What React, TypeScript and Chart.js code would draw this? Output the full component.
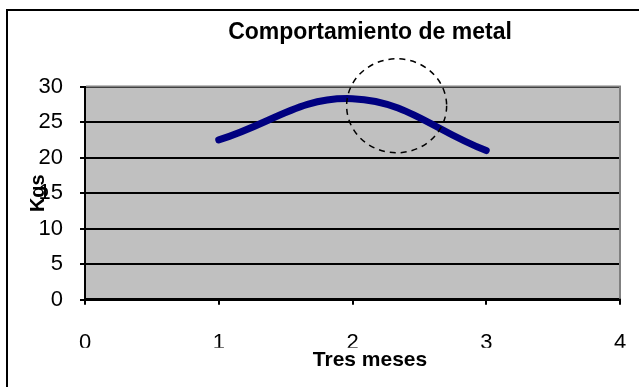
import React, { useEffect, useRef } from "react";
import { Chart, registerables } from "chart.js";

Chart.register(...registerables);

// ---- data ----
const months = [1, 2, 3];
const kgs = [22.5, 28.3, 21];
const xRange = [0, 4];
const yRange = [0, 30];
const xStep = 1;
const yStep = 5;
const titleText = "Comportamiento de metal";
const xTitle = "Tres meses";
const yTitle = "Kgs";
// dashed callout ring (data-space centre)
const calloutCenter = { x: 2.33, y: 27.3 };

const FONT = "'Liberation Sans', Arial, Helvetica, sans-serif";

const decorPlugin = {
  id: "decor",
  beforeDraw(chart: any) {
    const { ctx, chartArea: a, width, height } = chart;
    ctx.save();
    ctx.fillStyle = "#ffffff";
    ctx.fillRect(0, 0, width, height);
    ctx.strokeStyle = "#000000";
    ctx.lineWidth = 2;
    ctx.strokeRect(7, 10, width + 20, height + 20);
    ctx.fillStyle = "#c0c0c0";
    ctx.fillRect(a.left, a.top, a.right - a.left, a.bottom - a.top);
    ctx.restore();
  },
  beforeDatasetsDraw(chart: any) {
    const { ctx, chartArea: a } = chart;
    ctx.save();
    ctx.strokeStyle = "#808080";
    ctx.lineWidth = 2;
    ctx.beginPath();
    ctx.moveTo(a.left + 1, a.top);
    ctx.lineTo(a.right, a.top);
    ctx.lineTo(a.right, a.bottom - 1);
    ctx.stroke();
    ctx.restore();
  },
  afterDatasetsDraw(chart: any) {
    const { ctx, scales } = chart;
    const cx = scales.x.getPixelForValue(calloutCenter.x);
    const cy = scales.y.getPixelForValue(calloutCenter.y);
    ctx.save();
    ctx.strokeStyle = "#000000";
    ctx.lineWidth = 1.5;
    ctx.setLineDash([6, 5]);
    ctx.beginPath();
    ctx.ellipse(cx, cy, 50, 47, 0, 0, Math.PI * 2);
    ctx.stroke();
    ctx.restore();
  },
};

export default function App() {
  const ref = useRef<HTMLCanvasElement | null>(null);

  useEffect(() => {
    if (!ref.current) return;
    const chart = new Chart(ref.current, {
      type: "scatter",
      data: {
        datasets: [
          {
            data: months.map((m, i) => ({ x: m, y: kgs[i] })),
            showLine: true,
            borderColor: "#000080",
            backgroundColor: "#000080",
            borderWidth: 7,
            borderCapStyle: "round",
            borderJoinStyle: "round",
            tension: 0.4,
            pointRadius: 0,
            pointHoverRadius: 0,
            fill: false,
          } as any,
        ],
      },
      plugins: [decorPlugin],
      options: {
        responsive: false,
        devicePixelRatio: 1,
        animation: false,
        events: [],
        layout: { padding: 0 },
        plugins: {
          legend: { display: false },
          tooltip: { enabled: false },
          title: {
            display: true,
            text: titleText,
            color: "#000000",
            font: { family: FONT, size: 23, weight: "bold" },
            padding: { top: 19, bottom: 40 },
          },
          subtitle: {
            display: true,
            position: "bottom",
            text: xTitle,
            color: "#000000",
            font: { family: FONT, size: 21, weight: "bold" },
            padding: { top: 0, bottom: 27 },
          },
        },
        scales: {
          x: {
            type: "linear",
            position: "bottom",
            min: xRange[0],
            max: xRange[1],
            ticks: {
              stepSize: xStep,
              color: "#000000",
              padding: 25,
              font: { family: FONT, size: 22 },
            },
            grid: {
              display: true,
              drawOnChartArea: false,
              drawTicks: true,
              tickLength: 5,
              color: "#000000",
              lineWidth: 2,
            },
            border: { display: true, color: "#000000", width: 3 },
            afterFit(s: any) {
              s.height = 48;
            },
          },
          y: {
            type: "linear",
            position: "left",
            min: yRange[0],
            max: yRange[1],
            ticks: {
              stepSize: yStep,
              color: "#000000",
              padding: 17,
              font: { family: FONT, size: 22 },
            },
            grid: {
              display: true,
              drawOnChartArea: true,
              drawTicks: true,
              tickLength: 5,
              color: "#000000",
              lineWidth: 2,
            },
            border: { display: true, color: "#000000", width: 2 },
            title: {
              display: true,
              text: yTitle,
              color: "#000000",
              font: { family: FONT, size: 20, weight: "bold" },
              padding: { top: 26, bottom: 0 },
            },
            afterFit(s: any) {
              s.width = 85;
            },
          },
          y2: {
            type: "linear",
            position: "right",
            display: true,
            grid: { display: false, drawTicks: false },
            ticks: { display: false },
            border: { display: false },
            afterFit(s: any) {
              s.width = 120;
            },
          },
        },
      } as any,
    });
    return () => chart.destroy();
  }, []);

  return (
    <div
      style={{
        position: "absolute",
        left: 0,
        top: 0,
        width: 639,
        height: 387,
        overflow: "hidden",
        background: "#ffffff",
      }}
    >
      <canvas ref={ref} width={740} height={400} style={{ display: "block", width: 740, height: 400 }} />
    </div>
  );
}
